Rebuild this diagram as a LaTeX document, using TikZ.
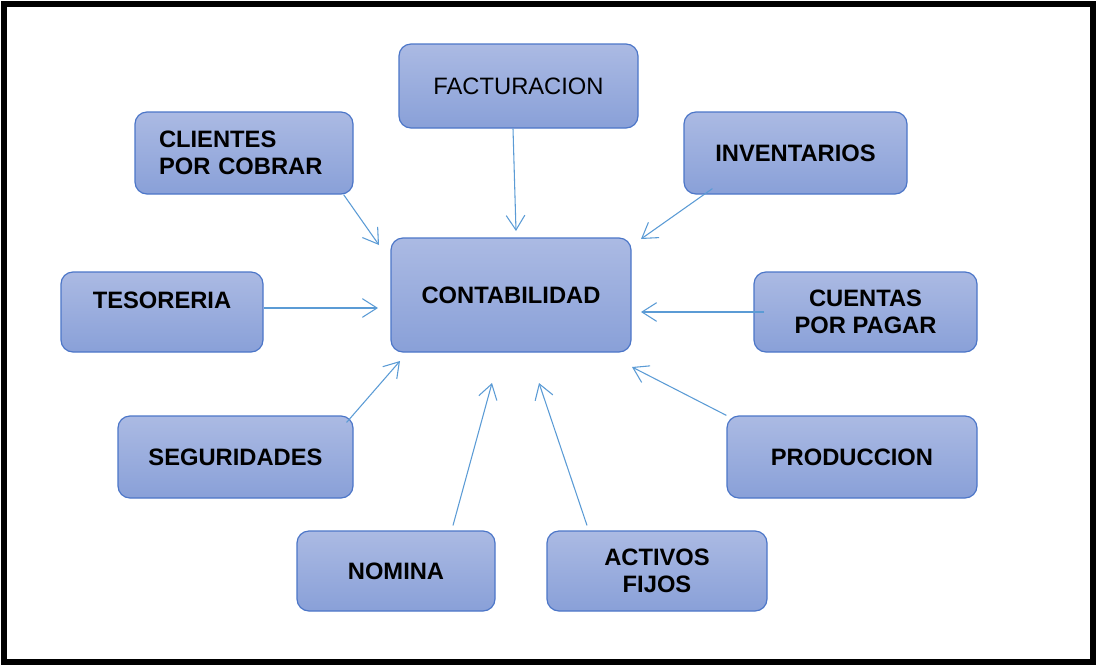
\documentclass[tikz,border=0pt]{standalone}
\usepackage{fontspec}
\setmainfont{Liberation Sans}
\usetikzlibrary{arrows.meta, calc}
\definecolor{boxtop}{RGB}{171,186,227}
\definecolor{boxbot}{RGB}{137,160,216}
\definecolor{boxline}{RGB}{76,118,200}
\definecolor{arrline}{RGB}{91,155,213}
\begin{document}
\begin{tikzpicture}[x=0.75pt,y=-0.75pt,
  box/.style={draw=boxline, line width=0.9pt, rounded corners=9pt,
    top color=boxtop, bottom color=boxbot, align=center, inner sep=0pt,
    font=\fontsize{17.8}{20.5}\selectfont\bfseries},
  arr/.style={draw=arrline, line width=0.8pt, -{Straight Barb[length=11pt,width=14pt]}}]
  \useasboundingbox (0,0) rectangle (1097,665);
  \draw[line width=4.5pt] (4,4) rectangle (1093,661.5);

  \node[box, minimum width=179.25pt, minimum height=63pt, font=\fontsize{17.8}{20.5}\selectfont] (fact) at (518.5,86) {FACTURACION};
  \node[box, minimum width=163.5pt, minimum height=61.5pt, align=left, text width=127.5pt] (cli) at (244,153) {CLIENTES\\POR COBRAR};
  \node[box, minimum width=167.25pt, minimum height=61.5pt] (inv) at (795.5,153) {INVENTARIOS};
  \node[box, minimum width=180pt, minimum height=85.5pt] (conta) at (511,295) {CONTABILIDAD};
  \node[box, minimum width=151.5pt, minimum height=60pt, text depth=18pt] (tes) at (162,312) {TESORERIA};
  \node[box, minimum width=167.25pt, minimum height=60pt] (cxp) at (865.5,312) {CUENTAS\\POR PAGAR};
  \node[box, minimum width=176.25pt, minimum height=61.5pt] (seg) at (235.5,457) {SEGURIDADES};
  \node[box, minimum width=187.5pt, minimum height=61.5pt] (prod) at (852,457) {PRODUCCION};
  \node[box, minimum width=148.5pt, minimum height=60pt] (nom) at (396,571) {NOMINA};
  \node[box, minimum width=165pt, minimum height=60pt] (act) at (657,571) {ACTIVOS\\FIJOS};

  \coordinate (eFact) at (516,231);
  \coordinate (eCli) at (379,245);
  \coordinate (eInv) at (641,239);
  \coordinate (eTes) at (378,308);
  \coordinate (eCxp) at (641,312);
  \coordinate (eSeg) at (400,361);
  \coordinate (eNom) at (492,383);
  \coordinate (eAct) at (539,383);
  \coordinate (eProd) at (632,367);

  \path
    ($(fact.south)+(-5.5,0)$) edge[arr] (eFact)
    ($(cli.south east)+(-10,0)$) edge[arr] (eCli)
    ($(inv.south west)+(29,-6)$) edge[arr] (eInv)
    ($(tes.east)+(0,-4)$) edge[arr] (eTes)
    ($(cxp.west)+(11,0)$) edge[arr] (eCxp)
    ($(seg.north east)+(-7,7)$) edge[arr] (eSeg)
    ($(nom.north)+(57,-5)$) edge[arr] (eNom)
    ($(act.north)+(-70,-5)$) edge[arr] (eAct)
    (prod.north west) edge[arr] (eProd);
\end{tikzpicture}
\end{document}
